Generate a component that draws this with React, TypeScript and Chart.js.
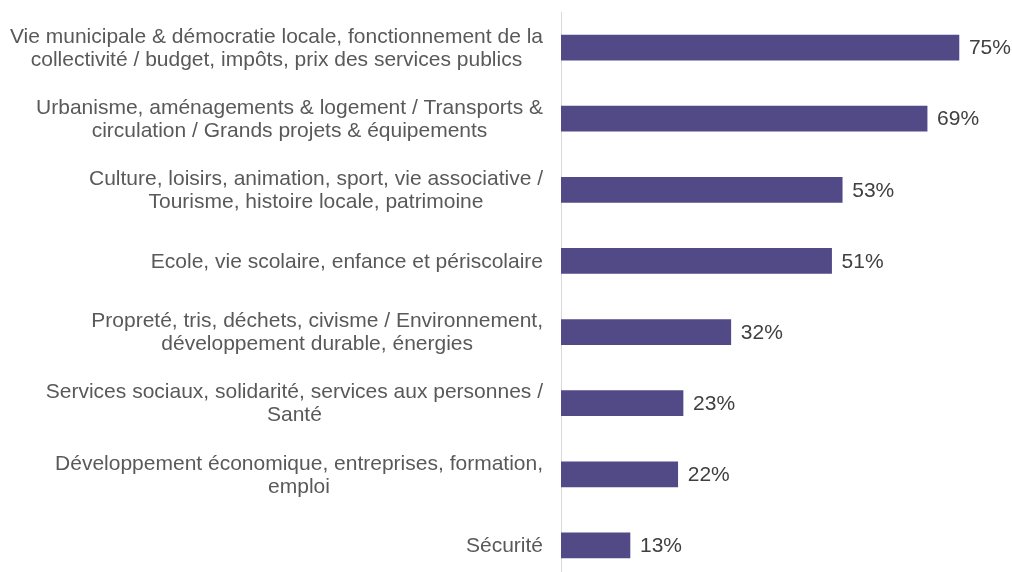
import React, { useEffect, useRef } from "react";
import { Chart, registerables } from "chart.js";

Chart.register(...registerables);

const categories: string[][] = [
  ["Vie municipale & démocratie locale, fonctionnement de la", "collectivité / budget, impôts, prix des services publics"],
  ["Urbanisme, aménagements & logement / Transports &", "circulation / Grands projets & équipements"],
  ["Culture, loisirs, animation, sport, vie associative /", "Tourisme, histoire locale, patrimoine"],
  ["Ecole, vie scolaire, enfance et périscolaire"],
  ["Propreté, tris, déchets, civisme / Environnement,", "développement durable, énergies"],
  ["Services sociaux, solidarité, services aux personnes /", "Santé"],
  ["Développement économique, entreprises, formation,", "emploi"],
  ["Sécurité"],
];
const values: number[] = [75, 69, 53, 51, 32, 23, 22, 13];
const valueLabels: string[] = values.map((v) => v + "%");

const FONT = "21px 'Liberation Sans', Arial, sans-serif";

const labelPlugin = {
  id: "customLabels",
  afterDatasetsDraw(chart: any) {
    const ctx = chart.ctx;
    const yScale = chart.scales.y;
    const meta = chart.getDatasetMeta(0);
    ctx.save();
    ctx.font = FONT;
    ctx.textBaseline = "middle";
    // category labels
    categories.forEach((lines, i) => {
      const yc = yScale.getPixelForValue(i);
      const maxW = Math.max(...lines.map((l) => ctx.measureText(l).width));
      const cx = chart.chartArea.left - 18 - maxW / 2;
      const lh = 23;
      const y0 = yc - ((lines.length - 1) * lh) / 2;
      ctx.fillStyle = "#595959";
      ctx.textAlign = "center";
      lines.forEach((l, j) => ctx.fillText(l, cx, y0 + j * lh + 1));
    });
    // value labels
    meta.data.forEach((bar: any, i: number) => {
      ctx.fillStyle = "#404040";
      ctx.textAlign = "left";
      ctx.fillText(valueLabels[i], bar.x + 10, bar.y + 1);
    });
    ctx.restore();
  },
};

export default function App() {
  const ref = useRef<HTMLCanvasElement>(null);
  useEffect(() => {
    document.documentElement.style.overflow = "hidden";
    document.body.style.overflow = "hidden";
    const chart = new Chart(ref.current!, {
      type: "bar",
      data: {
        labels: categories.map((c) => c.join(" ")),
        datasets: [
          {
            data: values,
            backgroundColor: "#514A87",
            barThickness: 25,
          },
        ],
      },
      options: {
        indexAxis: "y",
        animation: false,
        responsive: false,
        maintainAspectRatio: false,
        layout: { padding: { top: 12, right: 0, bottom: 0, left: 0 } },
        plugins: { legend: { display: false }, tooltip: { enabled: false } },
        scales: {
          x: { display: false, min: 0, max: 85 },
          y: {
            display: true,
            ticks: { display: false },
            grid: { display: false, drawTicks: false },
            border: { display: true, color: "#D9D9D9", width: 1 },
            afterFit(scale: any) {
              scale.width = 561;
            },
          },
        },
      },
      plugins: [labelPlugin],
    });
    return () => chart.destroy();
  }, []);
  return (
    <div style={{ position: "fixed", left: 0, top: 0, width: 1012, height: 581, background: "#fff" }}>
      <canvas ref={ref} width={1012} height={581} />
    </div>
  );
}
